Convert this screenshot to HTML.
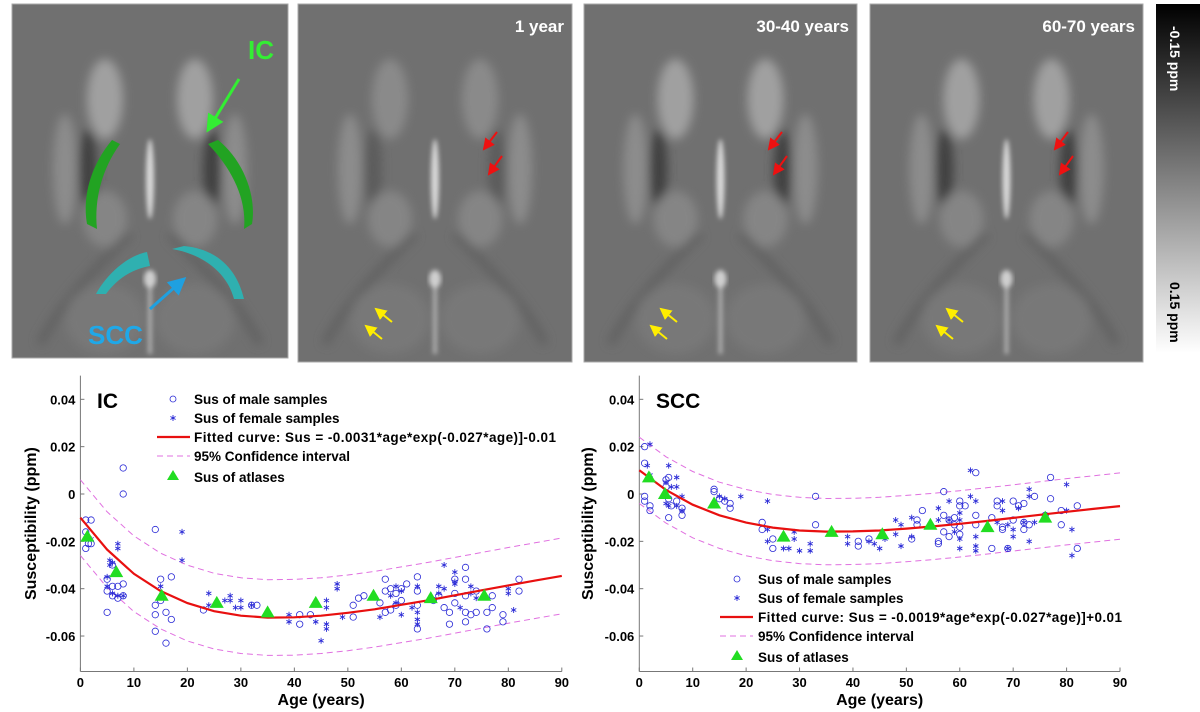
<!DOCTYPE html>
<html><head><meta charset="utf-8">
<style>
html,body{margin:0;padding:0;background:#fff;width:1200px;height:712px;overflow:hidden;}
svg text{font-family:"Liberation Sans",Arial,sans-serif;}
</style></head>
<body>
<svg id="fig" width="1200" height="712" viewBox="0 0 1200 712" xmlns="http://www.w3.org/2000/svg">
<defs>
<filter id="blur6" x="-20%" y="-20%" width="140%" height="140%"><feGaussianBlur stdDeviation="5"/></filter>
<filter id="blur3" x="-20%" y="-20%" width="140%" height="140%"><feGaussianBlur stdDeviation="2.5"/></filter>
<linearGradient id="cbar" x1="0" y1="0" x2="0" y2="1">
<stop offset="0" stop-color="#000"/><stop offset="0.5" stop-color="#808080"/><stop offset="1" stop-color="#fff"/>
</linearGradient>
<marker id="ahG" markerWidth="6" markerHeight="6" refX="5" refY="3" orient="auto"><path d="M0,0 L6,3 L0,6 z" fill="#33ee33"/></marker>
<marker id="ahB" markerWidth="6" markerHeight="6" refX="5" refY="3" orient="auto"><path d="M0,0 L6,3 L0,6 z" fill="#1fa0e0"/></marker>
<marker id="ahR" markerWidth="6" markerHeight="6" refX="5" refY="3" orient="auto"><path d="M0,0 L6,3 L0,6 z" fill="#ee1111"/></marker>
<marker id="ahY" markerWidth="6" markerHeight="6" refX="5" refY="3" orient="auto"><path d="M0,0 L6,3 L0,6 z" fill="#ffee00"/></marker>
</defs>
<g id="brains"></g>
<g>
<rect x="1156" y="4" width="44" height="349" fill="url(#cbar)"/>
<text transform="translate(1170,26) rotate(90)" font-size="14" font-weight="bold" fill="#fff">-0.15 ppm</text>
<text transform="translate(1170,282) rotate(90)" font-size="14" font-weight="bold" fill="#000">0.15 ppm</text>
</g>
<g id="chartIC"></g>
<g id="chartSCC"></g>
</svg>
<script>
// ---------- Data ----------
const xTicks = [0,10,20,30,40,50,60,70,80,90];
const yTicks = [0.04,0.02,0,-0.02,-0.04,-0.06];
const yTickLabels = ["0.04","0.02","0","-0.02","-0.04","-0.06"];
const fitAges = [0,5,10,15,20,25,30,35,40,45,50,55,60,65,70,75,80,85,90];
const icFit = [-0.01,-0.0235,-0.0337,-0.041,-0.0461,-0.0495,-0.0514,-0.0522,-0.0521,-0.0514,-0.0502,-0.0487,-0.0468,-0.0449,-0.0428,-0.0407,-0.0386,-0.0366,-0.0346];
const icCI = 0.016;
const sccFit = [0.01,0.0017,-0.0045,-0.009,-0.0121,-0.0142,-0.0154,-0.0159,-0.0158,-0.0154,-0.0146,-0.0137,-0.0126,-0.0114,-0.0101,-0.0088,-0.0075,-0.0063,-0.0051];
const sccCI = 0.014;
const icAtlasAge = [1.3,6.7,15.2,25.5,35,44,54.8,65.5,75.5];
const icAtlasVal = [-0.018,-0.033,-0.043,-0.046,-0.050,-0.046,-0.043,-0.044,-0.043];
const sccAtlasAge = [1.8,4.8,14,27,36,45.5,54.5,65.2,76];
const sccAtlasVal = [0.007,0,-0.004,-0.018,-0.016,-0.017,-0.013,-0.014,-0.010];
const icMaleAge = [1,1,1.5,2,2,1,5,5,5,6,6,6,7,7,8,8,8,8,14,14,14,14,15,15,16,16,17,17,23,32,33,41,41,43,51,51,52,53,56,57,57,57,58,58,59,59,60,60,61,63,63,63,63,66,67,68,69,69,70,70,70,72,72,72,72,72,73,74,74,76,76,77,77,79,79,82,82];
const icMaleVal = [-0.023,-0.016,-0.021,-0.011,-0.021,-0.011,-0.036,-0.041,-0.050,-0.043,-0.039,-0.030,-0.044,-0.039,0.011,0,-0.038,-0.043,-0.015,-0.047,-0.051,-0.058,-0.036,-0.045,-0.050,-0.063,-0.035,-0.053,-0.049,-0.047,-0.047,-0.051,-0.055,-0.051,-0.047,-0.052,-0.044,-0.043,-0.046,-0.036,-0.041,-0.050,-0.040,-0.049,-0.042,-0.047,-0.040,-0.045,-0.038,-0.035,-0.041,-0.047,-0.057,-0.045,-0.043,-0.048,-0.050,-0.055,-0.036,-0.042,-0.046,-0.031,-0.036,-0.043,-0.050,-0.054,-0.051,-0.041,-0.050,-0.050,-0.057,-0.043,-0.048,-0.051,-0.054,-0.036,-0.041];
const icFemAge = [2,5,5,5.5,5.5,6,6,7,7,7,8,15,19,19,24,24,27,28,28,29,30,30,32,39,39,44,45,46,46,46,46,48,48,49,56,58,59,59,60,60,62,63,63,63,63,67,67,68,68,70,70,70,71,73,73,74,80,80,81];
const icFemVal = [-0.019,-0.035,-0.039,-0.028,-0.030,-0.042,-0.029,-0.021,-0.023,-0.043,-0.043,-0.039,-0.016,-0.028,-0.042,-0.047,-0.045,-0.043,-0.045,-0.048,-0.045,-0.048,-0.047,-0.051,-0.054,-0.054,-0.062,-0.045,-0.048,-0.055,-0.057,-0.038,-0.040,-0.052,-0.052,-0.043,-0.039,-0.046,-0.041,-0.051,-0.048,-0.039,-0.050,-0.053,-0.055,-0.039,-0.042,-0.030,-0.040,-0.033,-0.037,-0.038,-0.048,-0.039,-0.042,-0.044,-0.040,-0.042,-0.049];
const sccMaleAge = [1,1,1,1,2,2,5,5,5.5,5.5,5.5,6,7,8,8,14,14,15,16,17,17,23,23,25,25,33,33,41,41,43,51,52,52,53,56,56,57,57,57,58,58,59,59,60,60,60,60,61,63,63,63,66,66,67,67,68,68,69,70,70,71,72,72,72,73,74,76,77,77,79,79,82,82];
const sccMaleVal = [0.020,0.013,-0.001,-0.003,-0.005,-0.007,0.006,0.003,0.007,-0.002,-0.010,-0.005,-0.003,-0.006,-0.009,0.002,0.001,-0.002,-0.003,-0.004,-0.006,-0.012,-0.015,-0.019,-0.023,-0.001,-0.013,-0.020,-0.022,-0.019,-0.019,-0.011,-0.013,-0.007,-0.020,-0.021,0.001,-0.009,-0.016,-0.011,-0.018,-0.010,-0.013,-0.003,-0.005,-0.014,-0.017,-0.005,0.009,-0.009,-0.013,-0.010,-0.023,-0.003,-0.005,-0.014,-0.015,-0.023,-0.003,-0.011,-0.005,-0.004,-0.012,-0.015,-0.013,-0.001,-0.009,0.007,-0.002,-0.013,-0.007,-0.005,-0.023];
const sccFemAge = [1.5,2,2,5,5,5.5,5.5,6,7,7,7,8,8,15,16,19,24,24,24,27,28,29,29,30,32,32,39,39,43,44,45,46,48,48,49,49,51,51,56,56,58,58,59,60,60,60,60,62,62,63,63,63,63,67,68,68,69,69,70,70,71,72,73,73,73,74,80,80,81,81];
const sccFemVal = [0.012,0.021,0.008,0.005,-0.004,0.012,-0.005,0.003,0.007,0.003,-0.005,-0.001,-0.007,-0.001,-0.002,-0.001,-0.003,-0.015,-0.020,-0.023,-0.023,-0.016,-0.019,-0.024,-0.021,-0.024,-0.018,-0.021,-0.020,-0.021,-0.023,-0.019,-0.011,-0.017,-0.013,-0.022,-0.010,-0.018,-0.006,-0.011,-0.003,-0.011,-0.016,-0.008,-0.011,-0.019,-0.023,0.010,-0.001,-0.003,-0.018,-0.022,-0.024,-0.012,-0.003,-0.007,-0.013,-0.023,-0.015,-0.018,-0.006,-0.012,0.002,-0.001,-0.020,-0.012,0.004,-0.007,-0.015,-0.026];

const NS="http://www.w3.org/2000/svg";
function mk(tag, attrs, parent){const e=document.createElementNS(NS,tag);for(const k in attrs)e.setAttribute(k,attrs[k]);if(parent)parent.appendChild(e);return e;}
function starPath(x,y,r){
  const a=r*0.87,b=r*0.5;
  return `M${x},${y-r} L${x},${y+r} M${x-a},${y-b} L${x+a},${y+b} M${x-a},${y+b} L${x+a},${y-b}`;
}

// ---------- Brain images ----------
const brains=document.getElementById('brains');
const panels=[[12,4,276,354,'0'],[298,4,274,358,'1 year'],[584,4,273,358,'30-40 years'],[870,4,273,358,'60-70 years']];
panels.forEach((p,i)=>{
  const [x,y,w,h,lab]=p;
  const g=mk('g',{transform:`translate(${x},${y})`},brains);
  
  
  mk('clipPath',{id:'cp'+i},g).appendChild(mk('rect',{x:0,y:0,width:w,height:h}));
  const c=mk('g',{'clip-path':`url(#cp${i})`},g);
  mk('rect',{x:0,y:0,width:w,height:h,fill:'#707070'},c);
  const b=mk('g',{filter:'url(#blur6)'},c);
  const cx=w/2;
  const light=i===1?'#8a8a8a':'#a0a0a0';
  const dark=i===1?'#5c5c5c':'#404040';
  mk('ellipse',{cx:cx-45,cy:95,rx:18,ry:40,fill:light},b);
  mk('ellipse',{cx:cx+45,cy:95,rx:18,ry:40,fill:light},b);
  mk('ellipse',{cx:cx-85,cy:165,rx:12,ry:55,fill:'#8c8c8c'},b);
  mk('ellipse',{cx:cx+85,cy:165,rx:12,ry:55,fill:'#8c8c8c'},b);
  mk('ellipse',{cx:cx-62,cy:165,rx:9,ry:40,fill:dark},b);
  mk('ellipse',{cx:cx+62,cy:165,rx:9,ry:40,fill:dark},b);
  mk('ellipse',{cx:cx-45,cy:215,rx:22,ry:28,fill:'#858585'},b);
  mk('ellipse',{cx:cx+45,cy:215,rx:22,ry:28,fill:'#858585'},b);
  mk('path',{d:`M${cx-20},230 C${cx-60},270 ${cx-90},300 ${cx-110},340`,stroke:'#606060','stroke-width':8,fill:'none'},b);
  mk('path',{d:`M${cx+20},230 C${cx+60},270 ${cx+90},300 ${cx+110},340`,stroke:'#606060','stroke-width':8,fill:'none'},b);
  mk('ellipse',{cx:cx-45,cy:315,rx:40,ry:35,fill:'#787878'},b);
  mk('ellipse',{cx:cx+45,cy:315,rx:40,ry:35,fill:'#787878'},b);
  const m=mk('g',{filter:'url(#blur3)'},c);
  mk('ellipse',{cx:cx,cy:175,rx:4,ry:40,fill:'#d8d8d8'},m);
  mk('rect',{x:cx-2,y:270,width:4,height:80,fill:'#b0b0b0'},m);
  mk('ellipse',{cx:cx,cy:275,rx:6,ry:9,fill:'#cfcfcf'},m);
  if(i>0){
    const t=mk('text',{x:w-8,y:28,'text-anchor':'end','font-size':17,'font-weight':'bold',fill:'#fff'},g);
    t.textContent=lab;
    
    
    [[w-75,128,w-88,145],[w-70,152,w-83,170]].forEach(a=>mk('line',{x1:a[0],y1:a[1],x2:a[2],y2:a[3],stroke:'#ee1111','stroke-width':2,'marker-end':'url(#ahR)'},g));
    [[w-180,318,w-196,305],[w-190,335,w-206,322]].forEach(a=>mk('line',{x1:a[0],y1:a[1],x2:a[2],y2:a[3],stroke:'#ffee00','stroke-width':2,'marker-end':'url(#ahY)'},g));
  } else {
    mk('path',{d:'M100,136 C80,160 70,190 75,220 L85,225 C82,195 90,165 108,140 Z',fill:'#22a322'},g);
    mk('path',{d:'M196,140 C220,165 235,195 232,225 L240,220 C245,190 230,155 206,136 Z',fill:'#22a322'},g);
    mk('path',{d:'M135,248 C115,252 95,270 84,290 L94,290 C105,275 120,265 138,262 Z',fill:'#2fb0b0'},g);
    mk('path',{d:'M160,245 C190,250 215,268 222,295 L232,295 C225,265 205,245 172,242 Z',fill:'#2fb0b0'},g);
    const t1=mk('text',{x:236,y:55,'font-size':26,'font-weight':'bold',fill:'#33ee33'},g);t1.textContent='IC';
    
    const t2=mk('text',{x:76,y:340,'font-size':26,'font-weight':'bold',fill:'#1fa8e8'},g);t2.textContent='SCC';
    
    mk('line',{x1:227,y1:75,x2:196,y2:126,stroke:'#33ee33','stroke-width':3,'marker-end':'url(#ahG)'},g);
    mk('line',{x1:138,y1:305,x2:172,y2:275,stroke:'#1fa0e0','stroke-width':3,'marker-end':'url(#ahB)'},g);
  }
  mk('rect',{x:0,y:0,width:w,height:h,fill:'none',stroke:'#aaa','stroke-width':1},g);
});

// ---------- Charts ----------
function chart(gid,cfg){
  const root=document.getElementById(gid);
  const X=a=>cfg.x0+(a/90)*(cfg.x90-cfg.x0);
  const Y=v=>494-v*2367;
  const ax=mk('g',{},root);
  
  mk('line',{x1:cfg.x0,y1:Y(0.05),x2:cfg.x0,y2:Y(-0.075),stroke:'#777','stroke-width':1},ax);
  mk('line',{x1:cfg.x0,y1:Y(-0.075),x2:cfg.x90,y2:Y(-0.075),stroke:'#777','stroke-width':1},ax);
  xTicks.forEach(t=>{
    mk('line',{x1:X(t),y1:Y(-0.075),x2:X(t),y2:Y(-0.075)-4,stroke:'#777'},ax);
    const tx=mk('text',{x:X(t),y:687,'text-anchor':'middle','font-size':13,'font-weight':'bold'},ax);
    tx.textContent=t;
    
  });
  yTicks.forEach((t,i)=>{
    mk('line',{x1:cfg.x0,y1:Y(t),x2:cfg.x0+4,y2:Y(t),stroke:'#777'},ax);
    const tx=mk('text',{x:cfg.x0-5,y:Y(t)+5,'text-anchor':'end','font-size':13,'font-weight':'bold'},ax);
    tx.textContent=yTickLabels[i];
    
  });
  const xt=mk('text',{x:(cfg.x0+cfg.x90)/2,y:705,'text-anchor':'middle','font-size':16,'font-weight':'bold'},root);
  xt.textContent='Age (years)';
  
  const yt=mk('text',{transform:`translate(${cfg.yTitleX},${Y(-0.0125)}) rotate(-90)`,'text-anchor':'middle','font-size':16,'font-weight':'bold'},root);
  yt.textContent='Susceptibility (ppm)';
  
  const tl=mk('text',{x:cfg.titleX,y:408,'font-size':21,'font-weight':'bold'},root);
  tl.textContent=cfg.title;
  
  ['up','lo'].forEach(s=>{
    const d=fitAges.map((a,i)=>(i?'L':'M')+X(a).toFixed(1)+','+Y(cfg.fit[i]+(s==='up'?cfg.ci:-cfg.ci)).toFixed(1)).join(' ');
    const p=mk('path',{d:d,fill:'none',stroke:'#e070e0','stroke-width':1,'stroke-dasharray':'6,4'},root);
    
  });
  const pts=mk('g',{},root);
  
  cfg.mA.forEach((a,i)=>{
    const c=mk('circle',{cx:X(a),cy:Y(cfg.mV[i]),r:3.2,fill:'none',stroke:'#2b2bd6','stroke-width':0.8},pts);
    
  });
  cfg.fA.forEach((a,i)=>{
    const t=mk('path',{d:starPath(X(a),Y(cfg.fV[i]),3),stroke:'#2b2bd6','stroke-width':0.9,fill:'none'},pts);
    
  });
  const d=fitAges.map((a,i)=>(i?'L':'M')+X(a).toFixed(1)+','+Y(cfg.fit[i]).toFixed(1)).join(' ');
  const fp=mk('path',{d:d,fill:'none',stroke:'#e81010','stroke-width':2.2},root);
  
  cfg.aA.forEach((a,i)=>{
    const x=X(a),y=Y(cfg.aV[i]);
    const t=mk('path',{d:`M${x},${y-7} L${x+7},${y+5} L${x-7},${y+5} Z`,fill:'#22dd22'},root);
    
  });
  const lg=mk('g',{},root);
  
  const L=cfg.leg, rows=[0,19,38,57,78];
  const labels=['Sus of male samples','Sus of female samples',cfg.fitText,'95% Confidence interval','Sus of atlases'];
  mk('circle',{cx:L.mx,cy:L.y+rows[0]-5,r:3,fill:'none',stroke:'#2b2bd6','stroke-width':0.8},lg);
  mk('path',{d:starPath(L.mx,L.y+rows[1]-5,3),stroke:'#2b2bd6','stroke-width':0.9,fill:'none'},lg);
  mk('line',{x1:L.lx1,y1:L.y+rows[2]-5,x2:L.lx2,y2:L.y+rows[2]-5,stroke:'#e81010','stroke-width':2.2},lg);
  mk('line',{x1:L.lx1,y1:L.y+rows[3]-5,x2:L.lx2,y2:L.y+rows[3]-5,stroke:'#e070e0','stroke-width':1,'stroke-dasharray':'6,4'},lg);
  mk('path',{d:`M${L.mx},${L.y+rows[4]-12} L${L.mx+6},${L.y+rows[4]-2} L${L.mx-6},${L.y+rows[4]-2} Z`,fill:'#22dd22'},lg);
  labels.forEach((s,i)=>{
    const a={x:L.tx,y:L.y+rows[i],'font-size':13.5,'font-weight':'bold'};
    if(i===2)a.textLength=L.w;
    const t=mk('text',a,lg);t.textContent=s;
    
  });
}
chart('chartIC',{x0:80.4,x90:561.8,yTitleX:36,title:'IC',titleX:97,fit:icFit,ci:icCI,
  mA:icMaleAge,mV:icMaleVal,fA:icFemAge,fV:icFemVal,aA:icAtlasAge,aV:icAtlasVal,
  fitText:'Fitted curve: Sus = -0.0031*age*exp(-0.027*age)]-0.01',
  leg:{y:404,mx:173,tx:194,lx1:157,lx2:190,w:362}});
chart('chartSCC',{x0:639.3,x90:1120,yTitleX:593,title:'SCC',titleX:656,fit:sccFit,ci:sccCI,
  mA:sccMaleAge,mV:sccMaleVal,fA:sccFemAge,fV:sccFemVal,aA:sccAtlasAge,aV:sccAtlasVal,
  fitText:'Fitted curve: Sus = -0.0019*age*exp(-0.027*age)]+0.01',
  leg:{y:584,mx:737,tx:758,lx1:720,lx2:753,w:364}});
</script>
</body></html>
